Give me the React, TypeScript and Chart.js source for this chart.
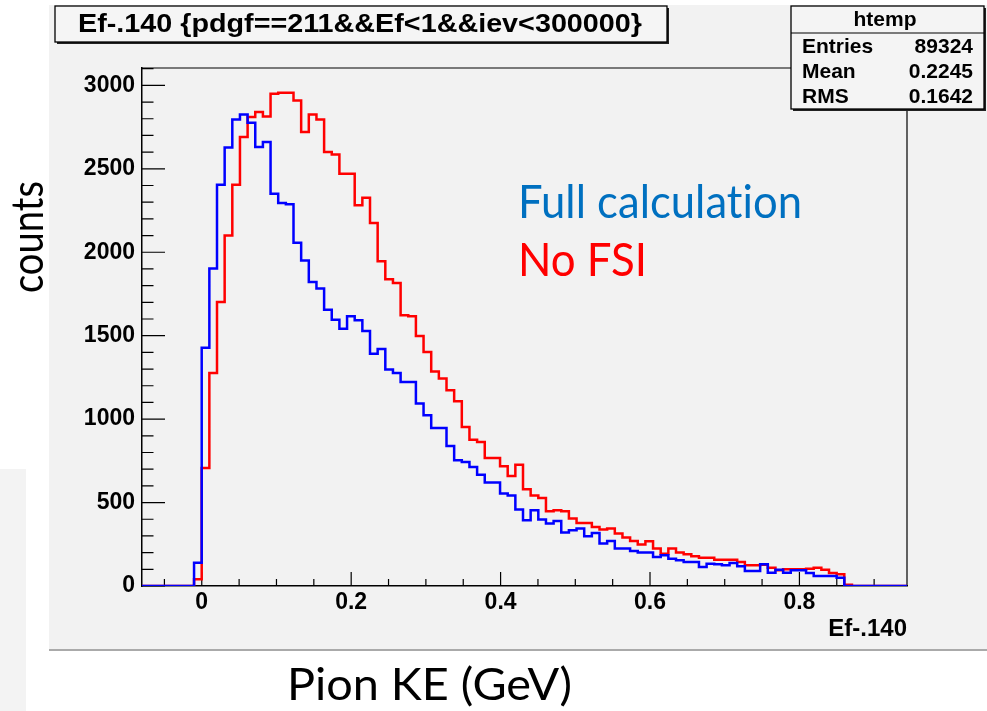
import React, { useEffect, useRef } from 'react';
import { Chart, registerables } from 'chart.js';

Chart.register(...registerables);

// ---- axis ranges / binning ----
const X_MIN = -0.08;
const X_MAX = 0.944;
const Y_MAX = 3104;
const HIST_MIN = -0.082;
const BIN_WIDTH = 0.01024;
const N_BINS = 100;
const FIRST_BIN = 7;

const X_TICKS = [0, 0.2, 0.4, 0.6, 0.8];
const Y_TICKS = [0, 500, 1000, 1500, 2000, 2500, 3000];

// ---- histogram contents (counts per bin, starting at bin FIRST_BIN) ----
const fullCalculation = [
  140, 1428, 1902, 2405, 2627, 2795, 2826, 2776, 2630, 2660,
  2351, 2295, 2287, 2057, 1951, 1821, 1782, 1656, 1596, 1542,
  1616, 1592, 1528, 1392, 1420, 1297, 1276, 1222, 1222, 1093,
  1023, 947, 947, 839, 753, 743, 713, 667, 620, 620,
  554, 543, 458, 394, 454, 398, 374, 390, 320, 334,
  344, 298, 318, 254, 270, 224, 224, 210, 200, 200,
  174, 184, 164, 154, 144, 144, 114, 134, 130, 124,
  138, 118, 90, 90, 130, 80, 98, 80, 94, 94,
  78, 60, 60, 60, 50,
];

const noFSI = [
  40, 707, 1276, 1702, 2101, 2405, 2690, 2810, 2840, 2814,
  2950, 2956, 2956, 2910, 2720, 2826, 2795, 2600, 2585, 2471,
  2471, 2281, 2327, 2175, 1946, 1838, 1816, 1622, 1616, 1498,
  1402, 1286, 1243, 1173, 1107, 953, 877, 863, 767, 767,
  717, 659, 726, 580, 543, 527, 448, 454, 448, 404,
  378, 378, 354, 338, 344, 314, 290, 270, 248, 268,
  224, 194, 224, 200, 190, 178, 170, 170, 158, 158,
  158, 144, 124, 124, 128, 110, 94, 100, 100, 100,
  104, 110, 98, 78, 70, 8,
];

const TITLE = 'Ef-.140 {pdgf==211&&Ef<1&&iev<300000}';
const STATS_NAME = 'htemp';
const STATS_LABELS = ['Entries', 'Mean', 'RMS'];
const STATS_VALUES = ['89324', '0.2245', '0.1642'];
const X_AXIS_TITLE = 'Ef-.140';

function histPoints(counts: number[]) {
  const pts: { x: number; y: number }[] = [];
  for (let k = 0; k < N_BINS; k++) {
    const i = k - FIRST_BIN;
    const c = i >= 0 && i < counts.length ? counts[i] : 0;
    pts.push({ x: HIST_MIN + k * BIN_WIDTH, y: c });
  }
  pts.push({ x: X_MAX, y: 0 });
  return pts;
}

const AXIS_FONT = 'Liberation Sans, Arial, sans-serif';
const SLIDE_FONT = "Lato, 'Open Sans', sans-serif";

const rootFrame = {
  id: 'rootFrame',
  beforeDatasetsDraw(chart: any) {
    const { ctx, chartArea, scales } = chart;
    const { left, right, top, bottom } = chartArea;
    const x = scales.x;
    const y = scales.y;
    ctx.save();
    ctx.strokeStyle = '#000';
    ctx.lineWidth = 1.2;
    ctx.beginPath();
    ctx.moveTo(left, top);
    ctx.lineTo(right, top);
    ctx.lineTo(right, bottom);
    for (let i = 0; i * 100 <= Y_MAX; i++) {
      const p = y.getPixelForValue(i * 100);
      const len = i % 5 === 0 ? 23 : 11.5;
      ctx.moveTo(left, p);
      ctx.lineTo(left + len, p);
    }
    for (let i = Math.ceil(X_MIN / 0.05); i * 0.05 <= X_MAX; i++) {
      const p = x.getPixelForValue(i * 0.05);
      const len = i % 4 === 0 ? 14 : 7;
      ctx.moveTo(p, bottom);
      ctx.lineTo(p, bottom - len);
    }
    ctx.stroke();
    ctx.restore();
  },
};

export default function App() {
  const ref = useRef<HTMLCanvasElement>(null);

  useEffect(() => {
    const chart = new Chart(ref.current as HTMLCanvasElement, {
      type: 'line',
      data: {
        datasets: [
          {
            label: 'Full calculation',
            data: histPoints(fullCalculation),
            borderColor: '#0000ff',
            borderWidth: 2.5,
            stepped: 'before',
            pointRadius: 0,
            fill: false,
          },
          {
            label: 'No FSI',
            data: histPoints(noFSI),
            borderColor: '#ff0000',
            borderWidth: 2.5,
            stepped: 'before',
            pointRadius: 0,
            fill: false,
          },
        ],
      },
      options: {
        responsive: false,
        animation: false,
        devicePixelRatio: 1,
        layout: { padding: { top: 68, right: 80, left: 0, bottom: 0 } },
        plugins: {
          legend: { display: false },
          tooltip: { enabled: false },
        },
        scales: {
          x: {
            type: 'linear',
            min: X_MIN,
            max: X_MAX,
            afterBuildTicks: (s: any) => {
              s.ticks = X_TICKS.map((v) => ({ value: v }));
            },
            afterFit: (s: any) => {
              s.height = 125;
            },
            grid: { display: false, drawTicks: false },
            border: { display: true, color: '#000', width: 1.5 },
            ticks: {
              autoSkip: false,
              maxRotation: 0,
              padding: 3,
              color: '#000',
              font: { family: AXIS_FONT, size: 23, weight: 'bold' },
              callback: (v: any) => (v === 0 ? '0' : String(Number(Number(v).toFixed(1)))),
            },
            title: {
              display: true,
              text: X_AXIS_TITLE,
              align: 'end',
              color: '#000',
              font: { family: AXIS_FONT, size: 24, weight: 'bold' },
              padding: { top: 0, bottom: 67 },
            },
          },
          y: {
            type: 'linear',
            min: 0,
            max: Y_MAX,
            afterBuildTicks: (s: any) => {
              s.ticks = Y_TICKS.map((v) => ({ value: v }));
            },
            afterFit: (s: any) => {
              s.width = 142;
            },
            grid: { display: false, drawTicks: false },
            border: { display: true, color: '#000', width: 1.5 },
            ticks: {
              padding: 7,
              color: '#000',
              font: { family: AXIS_FONT, size: 23, weight: 'bold' },
              callback: (v: any) => String(v),
            },
          },
        },
      },
      plugins: [rootFrame],
    } as any);
    return () => chart.destroy();
  }, []);

  const rowBase = [53, 78, 103];
  const noLig = { fontVariantLigatures: 'none' as const };
  return (
    <div style={{ position: 'absolute', left: 0, top: 0, width: 987, height: 711, background: '#fff', overflow: 'hidden' }}>
      <div style={{ position: 'absolute', left: 0, top: 469, width: 26, height: 242, background: '#f3f3f3' }} />
      <div style={{ position: 'absolute', left: 49, top: 5, width: 938, height: 644, background: '#f2f2f2', borderBottom: '2px solid #aaaaaa' }} />
      <canvas ref={ref} width={987} height={711} style={{ position: 'absolute', left: 0, top: 0, width: 987, height: 711 }} />
      <svg width={987} height={711} style={{ position: 'absolute', left: 0, top: 0, pointerEvents: 'none' }}>
        {/* title box */}
        <rect x={57} y={8} width={612} height={36} fill="#222" />
        <rect x={55} y={6} width={612} height={36} fill="#f5f5f5" stroke="#000" strokeWidth={1.3} />
        <text x={78} y={32} fontFamily={AXIS_FONT} fontWeight="bold" fontSize={25} textLength={564} lengthAdjust="spacingAndGlyphs" fill="#000">
          {TITLE}
        </text>
        {/* stats box */}
        <rect x={793} y={8} width={193} height={103} fill="#222" />
        <rect x={791} y={6} width={193} height={103} fill="#f4f4f4" stroke="#000" strokeWidth={1.3} />
        <line x1={791} y1={33} x2={984} y2={33} stroke="#000" strokeWidth={1.2} />
        <text x={885} y={26} textAnchor="middle" fontFamily={AXIS_FONT} fontWeight="bold" fontSize={21} textLength={63} lengthAdjust="spacingAndGlyphs" fill="#000">
          {STATS_NAME}
        </text>
        {STATS_LABELS.map((l, i) => (
          <text key={l} x={802} y={rowBase[i]} fontFamily={AXIS_FONT} fontWeight="bold" fontSize={21} fill="#000">
            {l}
          </text>
        ))}
        {STATS_VALUES.map((v, i) => (
          <text key={v} x={973} y={rowBase[i]} textAnchor="end" fontFamily={AXIS_FONT} fontWeight="bold" fontSize={21} fill="#000">
            {v}
          </text>
        ))}
        {/* slide annotations */}
        <text x={518} y={218} style={noLig} fontFamily={SLIDE_FONT} fontSize={46} textLength={284} lengthAdjust="spacingAndGlyphs" fill="#0070c0">
          Full calculation
        </text>
        <text x={518} y={276} style={noLig} fontFamily={SLIDE_FONT} fontSize={46} textLength={129} lengthAdjust="spacingAndGlyphs" fill="#ff0000">
          No FSI
        </text>
        <text x={287} y={700} style={noLig} fontFamily={SLIDE_FONT} fontSize={45} textLength={285} lengthAdjust="spacingAndGlyphs" fill="#000">
          Pion KE (GeV)
        </text>
        <text transform="translate(43,237) rotate(-90)" x={0} y={0} style={noLig} textAnchor="middle" fontFamily={SLIDE_FONT} fontSize={44} textLength={112} lengthAdjust="spacingAndGlyphs" fill="#000">
          counts
        </text>
      </svg>
    </div>
  );
}
